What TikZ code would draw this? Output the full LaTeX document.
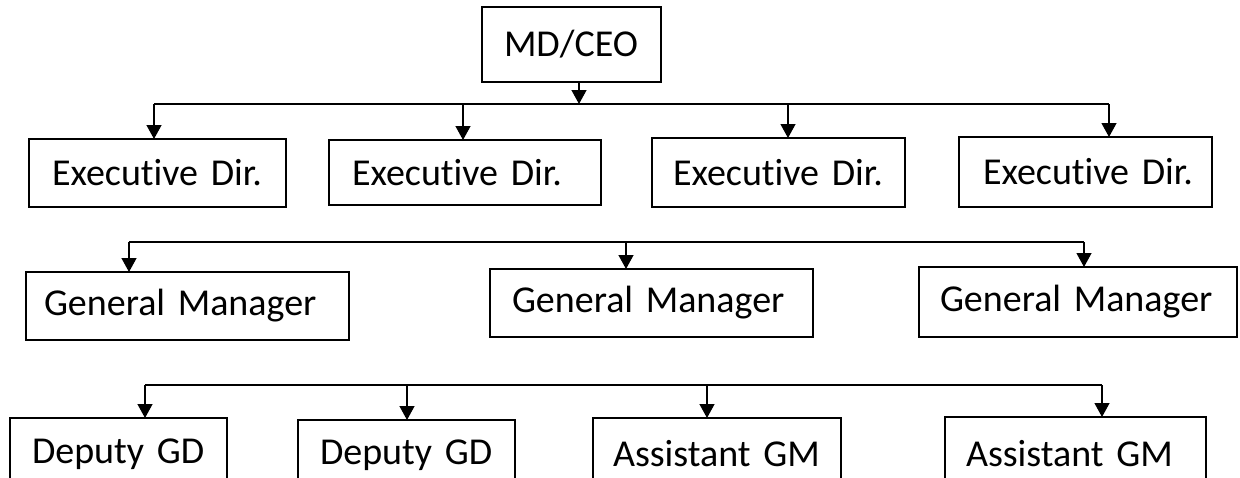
\documentclass[tikz,border=0pt]{standalone}
\usepackage{fontspec}
\setmainfont{Carlito}[Ligatures={NoCommon}]
\usetikzlibrary{arrows.meta}
\begin{document}
\begin{tikzpicture}[x=1pt,y=-1pt,
  box/.style={draw, line width=1.3pt, rectangle, anchor=north west, outer sep=0pt,
    inner ysep=0pt, align=left, font={\fontsize{38}{40}\selectfont\fontdimen2\font=5pt}},
  link/.style={line width=1.3pt},
  arr/.style={line width=1.3pt, -{Triangle[length=14pt,width=15pt]}}]
\clip (0,0) rectangle (1240,477);
\useasboundingbox (0,0) rectangle (1240,477);
% top
\node[box, minimum height=75pt, inner xsep=22pt, text width=135pt] (md) at (482,7) {\mbox{MD/CEO}};
% executive directors
\node[box, minimum height=68pt, inner xsep=23pt, text width=211pt] (e1) at (29,139) {\mbox{Executive Dir.}};
\node[box, minimum height=65pt, inner xsep=23pt, text width=226pt] (e2) at (329,140) {\mbox{Executive Dir.}};
\node[box, minimum height=69pt, inner xsep=21pt, text width=211pt] (e3) at (652,138) {\mbox{Executive Dir.}};
\node[box, minimum height=70pt, inner xsep=24pt, text width=205pt] (e4) at (959,137) {\mbox{Executive Dir.}};
% general managers
\node[box, minimum height=68pt, inner xsep=18pt, text width=287pt] (g1) at (26,272) {\mbox{General Manager}};
\node[box, minimum height=68pt, inner xsep=22pt, text width=279pt] (g2) at (490,269) {\mbox{General Manager}};
\node[box, minimum height=70pt, inner xsep=21pt, text width=276pt] (g3) at (919,267) {\mbox{General Manager}};
% bottom row
\node[box, minimum height=72pt, inner xsep=22pt, text width=173pt] (d1) at (10,418) {\mbox{Deputy GD}};
\node[box, minimum height=70pt, inner xsep=22pt, text width=173pt] (d2) at (298,420) {\mbox{Deputy GD}};
\node[box, minimum height=72pt, inner xsep=20pt, text width=208pt] (a1) at (593,418) {\mbox{Assistant GM}};
\node[box, minimum height=73pt, inner xsep=21pt, text width=219pt] (a2) at (945,417) {\mbox{Assistant GM}};
% bus 1
\coordinate (m0) at (579,104);
\coordinate (p1) at (154,104);
\coordinate (p2) at (463,104);
\coordinate (p3) at (788,104);
\coordinate (p4) at (1109,104);
\draw[arr] (md.south -| m0) -- (m0);
\draw[link] (p1) -- (p4);
\draw[arr] (p1) -- (p1 |- e1.north);
\draw[arr] (p2) -- (p2 |- e2.north);
\draw[arr] (p3) -- (p3 |- e3.north);
\draw[arr] (p4) -- (p4 |- e4.north);
% bus 2
\coordinate (q1) at (129,242);
\coordinate (q2) at (626,242);
\coordinate (q3) at (1084,242);
\draw[link] (q1) -- (q3);
\draw[arr] (q1) -- (q1 |- g1.north);
\draw[arr] (q2) -- (q2 |- g2.north);
\draw[arr] (q3) -- (q3 |- g3.north);
% bus 3
\coordinate (r1) at (145,385);
\coordinate (r2) at (407,385);
\coordinate (r3) at (707,385);
\coordinate (r4) at (1102,385);
\draw[link] (r1) -- (r4);
\draw[arr] (r1) -- (r1 |- d1.north);
\draw[arr] (r2) -- (r2 |- d2.north);
\draw[arr] (r3) -- (r3 |- a1.north);
\draw[arr] (r4) -- (r4 |- a2.north);
\end{tikzpicture}
\end{document}
